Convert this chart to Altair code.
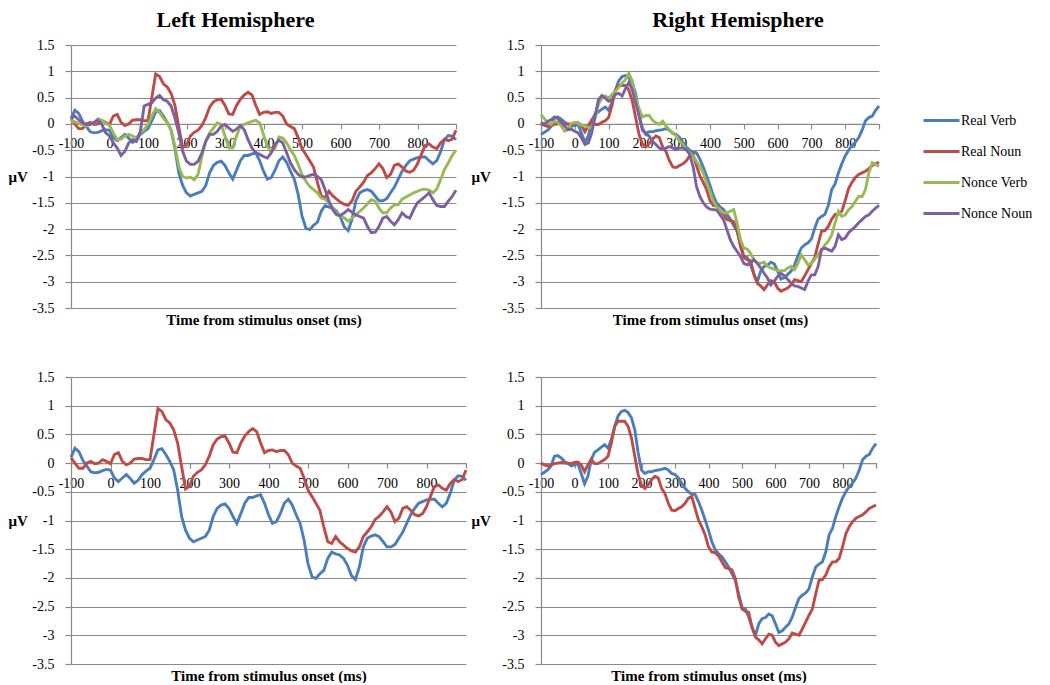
import altair as alt
import pandas as pd

FONT = "Liberation Serif"
GRID = "#898989"

times = list(range(-100, 901, 10))
series = ["Real Verb", "Real Noun", "Nonce Verb", "Nonce Noun"]
colors = ["#4A7EBB", "#BE4B48", "#98B954", "#7D60A0"]
x_ticks = [-100, 0, 100, 200, 300, 400, 500, 600, 700, 800, 900]
y_ticks = [-3.5, -3, -2.5, -2, -1.5, -1, -0.5, 0, 0.5, 1, 1.5]

# Left hemisphere
lh_real_verb = [
    0.10, 0.26, 0.20, 0.05, -0.05, -0.15, -0.17, -0.16, -0.13, -0.11,
    -0.12, -0.26, -0.32, -0.26, -0.20, -0.27, -0.35, -0.30, -0.20, -0.14,
    -0.09, 0.06, 0.23, 0.25, 0.15, 0.03, -0.12, -0.47, -0.93, -1.17,
    -1.31, -1.37, -1.34, -1.31, -1.28, -1.17, -0.93, -0.79, -0.73, -0.71,
    -0.79, -0.93, -1.05, -0.88, -0.70, -0.60, -0.60, -0.57, -0.55, -0.70,
    -0.90, -1.05, -1.02, -0.88, -0.70, -0.63, -0.73, -0.90, -1.05, -1.34,
    -1.75, -1.98, -2.01, -1.93, -1.87, -1.66, -1.55, -1.58, -1.60, -1.66,
    -1.78, -1.96, -2.03, -1.81, -1.46, -1.31, -1.27, -1.25, -1.28, -1.37,
    -1.46, -1.46, -1.42, -1.31, -1.20, -1.05, -0.90, -0.79, -0.70, -0.67,
    -0.64, -0.63, -0.63, -0.70, -0.76, -0.70, -0.53, -0.30, -0.22, -0.23,
    -0.30,
]
lh_real_noun = [
    0.09, 0.00, -0.09, -0.09, 0.00, 0.03, -0.01, 0.00, 0.06, 0.03,
    -0.01, 0.15, 0.18, 0.03, -0.03, 0.00, 0.07, 0.08, 0.08, 0.06,
    0.06, 0.50, 0.95, 0.90, 0.76, 0.70, 0.58, 0.35, -0.06, -0.45,
    -0.40, -0.23, -0.16, -0.12, -0.03, 0.12, 0.32, 0.42, 0.46, 0.47,
    0.35, 0.19, 0.18, 0.35, 0.47, 0.55, 0.60, 0.55, 0.35, 0.18,
    0.22, 0.23, 0.20, 0.22, 0.22, 0.15, 0.00, -0.05, -0.09, -0.26,
    -0.47, -0.58, -0.70, -0.82, -1.11, -1.37, -1.40, -1.28, -1.37, -1.43,
    -1.49, -1.53, -1.55, -1.46, -1.28, -1.20, -1.11, -0.98, -0.93, -0.85,
    -0.76, -0.85, -1.02, -0.96, -0.79, -0.76, -0.82, -0.90, -0.92, -0.88,
    -0.76, -0.58, -0.41, -0.38, -0.44, -0.47, -0.36, -0.29, -0.32, -0.29,
    -0.12,
]
lh_nonce_verb = [
    0.07, 0.04, 0.01, -0.02, -0.04, -0.01, 0.02, 0.10, 0.07, 0.02,
    -0.03, -0.17, -0.30, -0.29, -0.23, -0.20, -0.23, -0.27, -0.17, -0.11,
    -0.01, 0.15, 0.29, 0.22, 0.11, 0.02, -0.11, -0.43, -0.81, -1.00,
    -1.03, -1.01, -1.06, -0.96, -0.62, -0.33, -0.17, -0.08, 0.02, -0.01,
    -0.23, -0.46, -0.46, -0.23, -0.04, -0.01, 0.02, 0.05, 0.07, 0.02,
    -0.20, -0.43, -0.54, -0.46, -0.25, -0.27, -0.36, -0.49, -0.60, -0.77,
    -0.96, -1.09, -1.19, -1.25, -1.31, -1.41, -1.43, -1.50, -1.60, -1.69,
    -1.75, -1.79, -1.85, -1.79, -1.73, -1.66, -1.60, -1.52, -1.44, -1.47,
    -1.60, -1.69, -1.69, -1.60, -1.54, -1.54, -1.43, -1.39, -1.35, -1.31,
    -1.28, -1.25, -1.24, -1.26, -1.31, -1.24, -1.06, -0.87, -0.74, -0.60,
    -0.50,
]
lh_nonce_noun = [
    0.10, 0.15, 0.08, 0.02, -0.01, -0.01, 0.03, 0.07, -0.01, -0.17,
    -0.23, -0.36, -0.46, -0.60, -0.52, -0.36, -0.30, -0.33, -0.14, 0.34,
    0.37, 0.40, 0.49, 0.54, 0.46, 0.43, 0.34, 0.11, -0.17, -0.52,
    -0.71, -0.77, -0.77, -0.71, -0.55, -0.33, -0.20, -0.20, -0.14, -0.04,
    -0.01, -0.08, -0.14, -0.10, -0.03, -0.11, -0.30, -0.46, -0.55, -0.58,
    -0.62, -0.65, -0.55, -0.39, -0.31, -0.36, -0.55, -0.74, -0.87, -0.96,
    -1.01, -1.01, -0.98, -0.96, -1.00, -1.06, -1.25, -1.47, -1.63, -1.73,
    -1.74, -1.69, -1.63, -1.68, -1.73, -1.76, -1.79, -1.95, -2.07, -2.06,
    -1.95, -1.79, -1.76, -1.85, -1.92, -1.82, -1.69, -1.76, -1.79, -1.63,
    -1.50, -1.44, -1.38, -1.31, -1.44, -1.55, -1.57, -1.57, -1.47, -1.38,
    -1.26,
]

# Right hemisphere
rh_real_verb = [
    -0.20, -0.16, -0.12, -0.05, 0.12, 0.13, 0.09, 0.03, -0.01, -0.05,
    -0.03, -0.01, -0.18, -0.36, -0.23, 0.06, 0.19, 0.23, 0.28, 0.32,
    0.26, 0.41, 0.64, 0.82, 0.90, 0.92, 0.88, 0.79, 0.58, 0.18,
    -0.12, -0.18, -0.15, -0.15, -0.13, -0.12, -0.11, -0.09, -0.12, -0.18,
    -0.20, -0.26, -0.35, -0.44, -0.50, -0.54, -0.55, -0.67, -0.82, -0.99,
    -1.17, -1.37, -1.51, -1.58, -1.63, -1.72, -1.81, -1.93, -2.04, -2.28,
    -2.51, -2.54, -2.68, -2.86, -3.00, -2.80, -2.71, -2.69, -2.63, -2.66,
    -2.80, -2.95, -2.92, -2.86, -2.80, -2.68, -2.51, -2.36, -2.30, -2.26,
    -2.19, -1.98, -1.81, -1.76, -1.72, -1.55, -1.25, -1.14, -0.93, -0.76,
    -0.61, -0.50, -0.41, -0.35, -0.26, -0.12, 0.06, 0.12, 0.15, 0.26,
    0.34,
]
rh_real_noun = [
    0.00, -0.03, -0.05, -0.03, -0.01, 0.00, 0.01, 0.00, 0.00, -0.01,
    0.01, 0.02, -0.03, -0.15, -0.03, 0.07, -0.01, -0.01, 0.03, 0.06,
    0.12, 0.35, 0.64, 0.73, 0.73, 0.73, 0.64, 0.44, 0.12, -0.20,
    -0.38, -0.44, -0.38, -0.29, -0.23, -0.26, -0.44, -0.53, -0.70, -0.82,
    -0.83, -0.79, -0.76, -0.70, -0.61, -0.58, -0.79, -0.99, -1.11, -1.25,
    -1.46, -1.55, -1.56, -1.62, -1.72, -1.82, -1.84, -1.86, -2.01, -2.33,
    -2.54, -2.58, -2.60, -2.86, -3.03, -3.08, -3.15, -3.06, -2.98, -3.00,
    -3.12, -3.18, -3.15, -3.12, -3.06, -2.96, -2.98, -3.00, -2.89, -2.77,
    -2.65, -2.54, -2.28, -2.04, -2.03, -1.95, -1.81, -1.72, -1.72, -1.66,
    -1.46, -1.23, -1.11, -1.02, -0.96, -0.93, -0.90, -0.85, -0.79, -0.76,
    -0.73,
]
rh_nonce_verb = [
    0.18, 0.10, 0.02, -0.01, 0.05, 0.03, -0.04, -0.14, -0.11, 0.01,
    0.03, 0.01, -0.03, -0.04, -0.06, -0.08, 0.11, 0.37, 0.49, 0.53,
    0.49, 0.56, 0.62, 0.69, 0.78, 0.84, 0.96, 0.81, 0.49, 0.29,
    0.13, 0.16, 0.16, 0.07, 0.02, -0.01, 0.05, -0.04, -0.11, -0.17,
    -0.23, -0.33, -0.39, -0.48, -0.55, -0.62, -0.71, -0.81, -0.93, -1.12,
    -1.28, -1.47, -1.58, -1.63, -1.69, -1.69, -1.66, -1.63, -1.88, -2.20,
    -2.36, -2.38, -2.46, -2.58, -2.65, -2.65, -2.63, -2.71, -2.74, -2.76,
    -2.79, -2.79, -2.79, -2.74, -2.71, -2.77, -2.65, -2.49, -2.58, -2.68,
    -2.65, -2.57, -2.49, -2.39, -2.30, -2.23, -2.11, -1.88, -1.66, -1.76,
    -1.73, -1.63, -1.57, -1.47, -1.38, -1.38, -1.25, -0.93, -0.74, -0.77,
    -0.81,
]
rh_nonce_noun = [
    0.03, -0.01, 0.05, 0.08, 0.13, 0.10, 0.03, -0.04, -0.11, -0.10,
    -0.14, -0.17, -0.27, -0.39, -0.36, -0.17, 0.15, 0.46, 0.54, 0.49,
    0.43, 0.46, 0.56, 0.58, 0.53, 0.67, 0.79, 0.65, 0.40, 0.15,
    -0.08, -0.20, -0.23, -0.33, -0.39, -0.46, -0.49, -0.46, -0.43, -0.46,
    -0.48, -0.46, -0.46, -0.49, -0.58, -0.81, -1.19, -1.38, -1.50, -1.58,
    -1.62, -1.63, -1.64, -1.73, -1.82, -2.01, -2.20, -2.33, -2.42, -2.52,
    -2.65, -2.68, -2.65, -2.58, -2.65, -2.74, -2.84, -2.93, -3.06, -2.99,
    -2.90, -2.84, -2.89, -2.96, -3.03, -3.08, -3.09, -3.12, -3.15, -2.99,
    -2.87, -2.87, -2.71, -2.39, -2.36, -2.39, -2.42, -2.33, -2.11, -2.20,
    -2.17, -2.07, -2.01, -1.95, -1.88, -1.82, -1.76, -1.73, -1.66, -1.60,
    -1.55,
]


def make_df(pairs):
    rows = []
    for name, vals in pairs:
        for t, v in zip(times, vals):
            rows.append({"t": t, "v": v, "s": name})
    return pd.DataFrame(rows)


df_tl = make_df([("Real Verb", lh_real_verb), ("Real Noun", lh_real_noun),
                 ("Nonce Verb", lh_nonce_verb), ("Nonce Noun", lh_nonce_noun)])
df_tr = make_df([("Real Verb", rh_real_verb), ("Real Noun", rh_real_noun),
                 ("Nonce Verb", rh_nonce_verb), ("Nonce Noun", rh_nonce_noun)])
df_bl = make_df([("Real Verb", lh_real_verb), ("Real Noun", lh_real_noun)])
df_br = make_df([("Real Verb", rh_real_verb), ("Real Noun", rh_real_noun)])

legend = alt.Legend(
    orient="none", legendX=851, legendY=56, title=None,
    labelFont=FONT, labelFontSize=14, labelColor="black", labelOffset=0,
    symbolType="stroke", symbolStrokeWidth=3, symbolSize=1296,
    rowPadding=4,
)


def panel(df, w, h, mux, title=None, tdx=0):
    zero_off = round(h * 3.5 / 5.0, 1)
    x = alt.X(
        "t:Q",
        scale=alt.Scale(domain=[-100, 900], nice=False, zero=False),
        axis=alt.Axis(
            values=x_ticks,
            labelExpr="datum.value == 900 ? '' : '' + datum.value",
            offset=-zero_off,
            title="Time from stimulus onset (ms)",
            titleY=zero_off + 4, titleBaseline="top",
            titleFont=FONT, titleFontSize=15, titleFontWeight="bold", titleColor="black",
            grid=False, domainColor=GRID, domainWidth=1.2,
            tickColor=GRID, tickSize=5, tickWidth=1.2,
            labelPadding=8, labelFont=FONT, labelFontSize=14, labelColor="black",
            labelOverlap=False, labelFlush=False,
        ),
    )
    y = alt.Y(
        "v:Q",
        scale=alt.Scale(domain=[-3.5, 1.5], nice=False, zero=False),
        axis=alt.Axis(
            values=y_ticks,
            labelExpr="'' + datum.value",
            title="μV", titleAngle=0, titleAlign="left", titleBaseline="middle",
            titleX=mux, titleY=h / 2,
            titleFont=FONT, titleFontSize=15, titleFontWeight="bold", titleColor="black",
            grid=True, gridColor=GRID, gridWidth=1.2,
            domainColor=GRID, domainWidth=1.2,
            tickColor=GRID, tickSize=6, tickWidth=1.2,
            labelPadding=11, labelFont=FONT, labelFontSize=14, labelColor="black",
            labelOverlap=False,
        ),
    )
    color = alt.Color("s:N", scale=alt.Scale(domain=series, range=colors), legend=legend)
    ch = alt.Chart(df).mark_line(strokeWidth=2.9).encode(x=x, y=y, color=color)
    props = dict(width=w, height=h)
    if title:
        props["title"] = alt.TitleParams(
            title, font=FONT, fontSize=22, fontWeight="bold", color="black",
            anchor="middle", frame="group", dx=tdx, offset=6,
        )
    return ch.properties(**props)


tl = panel(df_tl, 385, 263, -63, "Left Hemisphere", -28)
tr = panel(df_tr, 338, 263, -70, "Right Hemisphere", 28)
bl = panel(df_bl, 395, 287, -63)
br = panel(df_br, 335, 287, -70)

chart = alt.vconcat(
    alt.hconcat(tl, tr, spacing=85, bounds="flush"),
    alt.hconcat(bl, br, spacing=75, bounds="flush"),
    spacing=43,
).properties(
    padding={"left": 0, "top": 1, "right": 0, "bottom": 0}
).configure_view(stroke=None)

chart.save("out.html", embed_options={"renderer": "svg", "actions": False})
